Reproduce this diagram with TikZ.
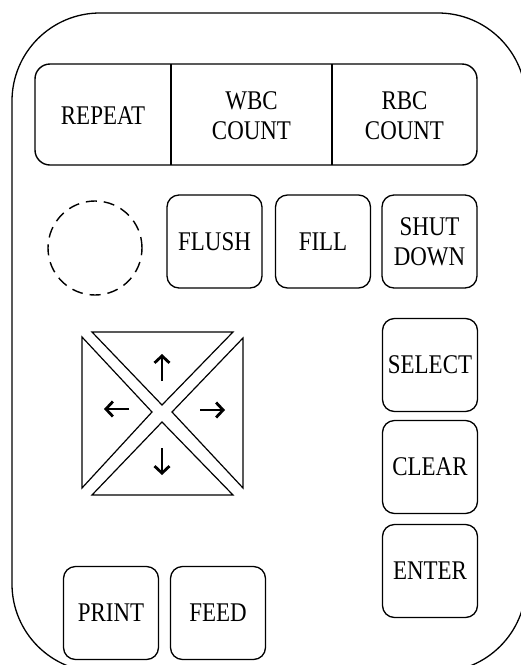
\documentclass[tikz,border=0pt]{standalone}
\usepackage{fontspec}
\setmainfont{Liberation Serif}[FakeStretch=0.85]
\usepackage{tikz}
\usetikzlibrary{arrows.meta,positioning}

\begin{document}
\begin{tikzpicture}[x=1pt,y=-1pt,>={Straight Barb[length=7pt,width=15pt]},
  key/.style={draw,rounded corners=12pt,line width=1.3pt,minimum width=95pt,minimum height=93pt,inner sep=0pt,align=center,font=\fontsize{27}{30}\selectfont},
  lab/.style={align=center,inner sep=0pt,font=\fontsize{27}{30}\selectfont},
  pad/.style={line width=1.2pt,line join=miter},
  padarrow/.style={->,line width=2.8pt}]
  \useasboundingbox (0,0) rectangle (521,665);
  \clip (0,0) rectangle (521,665);
  % casing
  \draw[line width=1.3pt,rounded corners=88pt] (12,13) rectangle (526,672);
  % top bar
  \draw[line width=1.4pt,rounded corners=15pt] (35,64) rectangle (477,165);
  \coordinate (d1t) at (171,64); \coordinate (d1b) at (171,165);
  \coordinate (d2t) at (332,64); \coordinate (d2b) at (332,165);
  \draw[line width=1.4pt] (d1t) -- (d1b);
  \draw[line width=1.4pt] (d2t) -- (d2b);
  \node[lab] (repeat) at (103,116) {REPEAT};
  \node[lab] (wbc) at (251.5,116) {WBC\\COUNT};
  \node[lab] (rbc) at (404.5,116) {RBC\\COUNT};
  % second row
  \node[draw,circle,dash pattern=on 11pt off 7pt,line width=1.4pt,minimum size=94pt] (knob) at (95,248) {};
  \node[key] (flush) at (214.5,241.5) {FLUSH};
  \node[key] (fill) at (323,241.5) {FILL};
  \node[key] (shut) at (429.5,241.5) {SHUT\\DOWN};
  % right column
  \node[key] (select) at (430,365) {SELECT};
  \node[key] (clear) at (430,467) {CLEAR};
  \node[key] (enter) at (430,571) {ENTER};
  % bottom row
  \node[key] (print) at (111,613) {PRINT};
  \node[key] (feed) at (218,613) {FEED};
  % direction pad
  \draw[pad] (92,332) -- (233,332) -- (162,405) -- cycle;
  \draw[pad] (82,337) -- (152,412) -- (82,488) -- cycle;
  \draw[pad] (243,338) -- (172,412) -- (243,488) -- cycle;
  \draw[pad] (92,495) -- (233,495) -- (162,422) -- cycle;
  \draw[padarrow] (162,381) -- (162,354);
  \draw[padarrow] (129,409) -- (104,409);
  \draw[padarrow] (200,410) -- (225,410);
  \draw[padarrow] (162,448) -- (162,475);
\end{tikzpicture}
\end{document}
